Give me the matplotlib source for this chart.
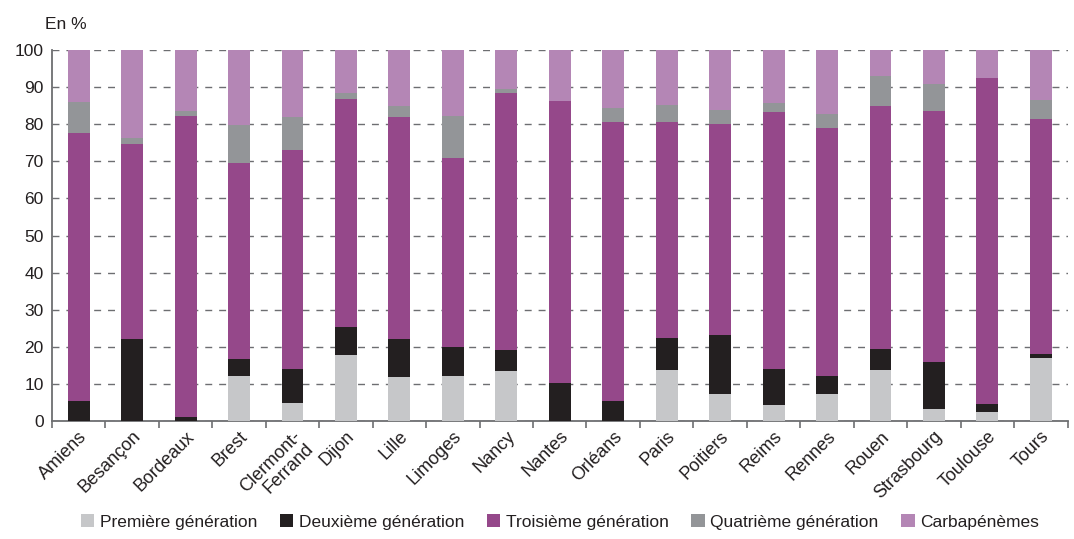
import matplotlib.pyplot as plt
import numpy as np

plt.rcParams['font.family'] = ['Liberation Sans', 'DejaVu Sans']

villes = ["Amiens", "Besançon", "Bordeaux", "Brest", "Clermont-\nFerrand", "Dijon",
          "Lille", "Limoges", "Nancy", "Nantes", "Orléans", "Paris", "Poitiers",
          "Reims", "Rennes", "Rouen", "Strasbourg", "Toulouse", "Tours"]

premiere = [0, 0, 0, 12.1, 4.9, 17.8, 11.9, 12.1, 13.5, 0, 0, 13.7, 7.3, 4.3, 7.3, 13.7, 3.2, 2.4, 17.0]
deuxieme = [5.4, 22.1, 1.1, 4.6, 9.1, 7.5, 10.2, 7.8, 5.6, 10.2, 5.4, 8.7, 15.9, 9.7, 4.8, 5.7, 12.7, 2.2, 1.1]
troisieme = [72.2, 52.6, 81.1, 52.8, 59.0, 61.5, 59.8, 51.0, 69.3, 76.1, 75.2, 58.2, 56.9, 69.3, 66.9, 65.5, 67.7, 87.9, 63.3]
quatrieme = [8.4, 1.6, 1.4, 10.3, 8.9, 1.6, 3.0, 11.3, 1.1, 0, 3.9, 4.5, 3.7, 2.4, 3.7, 8.1, 7.2, 0, 5.1]
carbapenemes = [14.0, 23.7, 16.4, 20.2, 18.1, 11.6, 15.1, 17.8, 10.5, 13.7, 15.5, 14.9, 16.2, 14.3, 17.3, 7.0, 9.2, 7.5, 13.5]

series = [
    ("Première génération", premiere, "#c6c7c9"),
    ("Deuxième génération", deuxieme, "#231f20"),
    ("Troisième génération", troisieme, "#95488a"),
    ("Quatrième génération", quatrieme, "#939598"),
    ("Carbapénèmes", carbapenemes, "#b486b5"),
]

fig = plt.figure(figsize=(10.74, 5.39), dpi=100)
ax = fig.add_axes([0.0484, 0.219, 0.9456, 0.688])

x = np.arange(len(villes))
bottom = np.zeros(len(villes))
for nom, vals, col in series:
    vals = np.array(vals)
    ax.bar(x, vals, bottom=bottom, width=0.41, color=col, label=nom, zorder=3)
    bottom += vals

ax.set_xlim(-0.5, len(villes) - 0.5)
ax.set_ylim(0, 100)
ax.set_yticks(range(0, 101, 10))
ax.tick_params(axis='y', length=0, labelsize=12.5, colors='#231f20', pad=6)
ax.yaxis.grid(True, linestyle=(0, (5, 5)), color='#6d6e71', linewidth=1, zorder=0)

ax.set_xticks(x)
ax.set_xticklabels(villes, rotation=45, ha='right', rotation_mode='anchor',
                   fontsize=13, color='#231f20', linespacing=1.0)
ax.tick_params(axis='x', length=0, pad=5)
ax.set_xticks(np.arange(-0.5, len(villes)), minor=True)
ax.tick_params(axis='x', which='minor', length=5, width=1.2, color='#6d6e71', direction='out')

for s in ['top', 'right']:
    ax.spines[s].set_visible(False)
for s in ['left', 'bottom']:
    ax.spines[s].set_color('#6d6e71')
    ax.spines[s].set_linewidth(1.3)

fig.text(0.042, 0.955, "En %", fontsize=12.5, color='#231f20', va='center')

ax.legend(loc='lower center', bbox_to_anchor=(0.5, -0.335), ncol=5, frameon=False,
          fontsize=12.5, handlelength=0.8, handleheight=0.8, handletextpad=0.3,
          columnspacing=1.3, labelcolor='#231f20')

fig.savefig("out.png", dpi=100)
